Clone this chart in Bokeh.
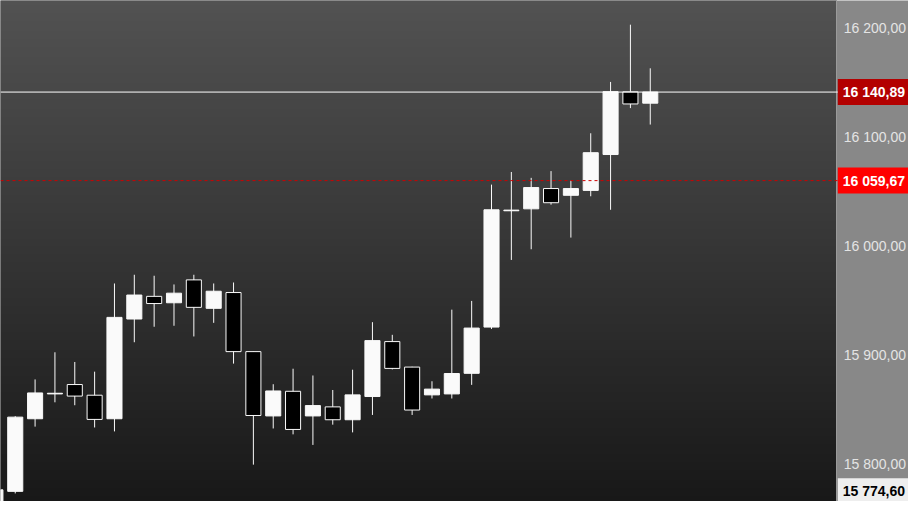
import numpy as np
from bokeh.plotting import figure
from bokeh.models import (ColumnDataSource, Span, Label, FixedTicker,
                          CustomJSTickFormatter, Range1d)
from bokeh.embed import file_html
from bokeh.resources import INLINE

# ---- data ----
idx = list(range(-1, 33))
opens = [15740.0, 15774.6, 15841.2, 15864.0, 15872.6, 15862.8, 15841.2, 15932.7, 15953.5,
         15947.6, 15968.6, 15942.5, 15957.0, 15902.8, 15843.8, 15866.4, 15843.8, 15852.1,
         15840.3, 15861.6, 15912.0, 15888.6, 15863.1, 15864.0, 15882.9, 15925.3, 16032.0,
         16033.8, 16052.4, 16046.2, 16050.7, 16083.6, 16141.1, 16130.7]
highs = [15776.0, 15843.6, 15877.3, 15902.2, 15893.3, 15884.4, 15965.3, 15973.3, 15972.4,
         15964.4, 15973.3, 15965.3, 15966.2, 15903.0, 15872.9, 15887.1, 15880.9, 15867.6,
         15886.2, 15929.8, 15918.2, 15888.9, 15875.6, 15941.3, 15949.3, 16056.0, 16067.6,
         16062.2, 16068.4, 16059.6, 16103.1, 16150.2, 16202.7, 16162.7]
lows = [15735.0, 15772.7, 15834.0, 15856.3, 15853.6, 15833.2, 15829.6, 15911.4, 15925.6,
        15926.5, 15916.7, 15929.2, 15891.8, 15799.1, 15832.3, 15826.9, 15817.2, 15835.8,
        15828.7, 15844.7, 15886.5, 15844.7, 15859.8, 15859.8, 15872.3, 15923.6, 15986.9,
        15996.7, 16037.6, 16007.4, 16045.3, 16032.9, 16126.2, 16111.1]
closes = [15776.0, 15842.7, 15864.9, 15864.6, 15862.0, 15840.6, 15934.2, 15954.7, 15946.9,
          15956.4, 15943.4, 15958.2, 15902.8, 15844.2, 15866.7, 15831.4, 15853.3, 15840.3,
          15863.1, 15912.9, 15887.4, 15849.2, 15868.4, 15882.7, 15924.4, 16032.9, 16032.6,
          16053.3, 16039.4, 16052.4, 16085.3, 16141.3, 16130.0, 16140.89]

y_ticks = [15800, 15900, 16000, 16100, 16200]
last_price = 16140.89
ref_price = 16059.67
low_mark = 15774.60

# chart area x extent (candle index units) and the price-scale panel beyond it
X0, X1 = -0.743, 41.4
X_END = 45.013
Y0, Y1 = 15765.3, 16224.9


def fmt(v):
    s = f"{v:,.2f}"
    a, b = s.split(".")
    return a.replace(",", " ") + "," + b


up = [c >= o for o, c in zip(opens, closes)]
src = ColumnDataSource(dict(
    x=idx, high=highs, low=lows,
    top=[max(o, c) for o, c in zip(opens, closes)],
    bottom=[min(o, c) for o, c in zip(opens, closes)],
    fill=["#fafafa" if u else "#000000" for u in up],
))

p = figure(width=908, height=501, output_backend="svg", toolbar_location=None,
           x_axis_location=None, y_axis_location="right",
           x_range=Range1d(X0, X_END), y_range=Range1d(Y0, Y1),
           min_border=0)
p.outline_line_color = None
p.border_fill_color = "#888888"
p.background_fill_color = "#888888"
p.grid.visible = False

# chart background gradient (left of the price panel), slightly oversized
n = 256
g = np.linspace(0x18, 0x53, n).astype(np.uint32)
img = ((0xFF << 24) | (g << 16) | (g << 8) | g).reshape(n, 1).astype(np.uint32)
pad_y = (Y1 - Y0) * 0.01
p.image_rgba(image=[img], x=X0 - 1, y=Y0 - pad_y, dw=X1 - X0 + 1, dh=Y1 - Y0 + 2 * pad_y,
             level="image")

# candles
p.segment(x0="x", y0="high", x1="x", y1="low", source=src, line_color="#fafafa", line_width=1)
p.vbar(x="x", width=0.76, top="top", bottom="bottom", source=src,
       fill_color="fill", line_color="#fafafa", line_width=1)

# price lines
p.add_layout(Span(location=ref_price, dimension="width", line_color="#d00000",
                  line_dash="3 3", line_width=1))
p.add_layout(Span(location=last_price, dimension="width", line_color="#ffffff",
                  line_width=1))

# price scale, drawn at the panel's left edge
ax = p.yaxis[0]
ax.fixed_location = X1
ax.ticker = FixedTicker(ticks=y_ticks)
ax.formatter = CustomJSTickFormatter(code=r"""
const s = tick.toFixed(2).split('.');
return s[0].replace(/\B(?=(\d{3})+(?!\d))/g, ' ') + ',' + s[1];
""")
ax.major_label_text_color = "#e4e4e4"
ax.major_label_text_font = "Liberation Sans"
ax.major_label_text_font_size = "14px"
ax.major_label_standoff = 7
ax.major_tick_out = 0
ax.major_tick_in = 0
ax.minor_tick_out = 0
ax.minor_tick_in = 0
ax.major_tick_line_color = None
ax.minor_tick_line_color = None
ax.axis_line_color = "#9a9a9a"

# price labels in the panel
for val, bg, fg in [(last_price, "#b30000", "#ffffff"),
                    (ref_price, "#ff0000", "#ffffff"),
                    (low_mark, "#eeeeee", "#000000")]:
    p.add_layout(Label(x=X1, y=val, x_offset=1, text=fmt(val), text_align="left",
                       text_baseline="middle", text_color=fg,
                       text_font="Liberation Sans", text_font_size="14px",
                       text_font_style="bold", background_fill_color=bg,
                       padding=5))

open("out.html", "w").write(file_html(p, INLINE))
